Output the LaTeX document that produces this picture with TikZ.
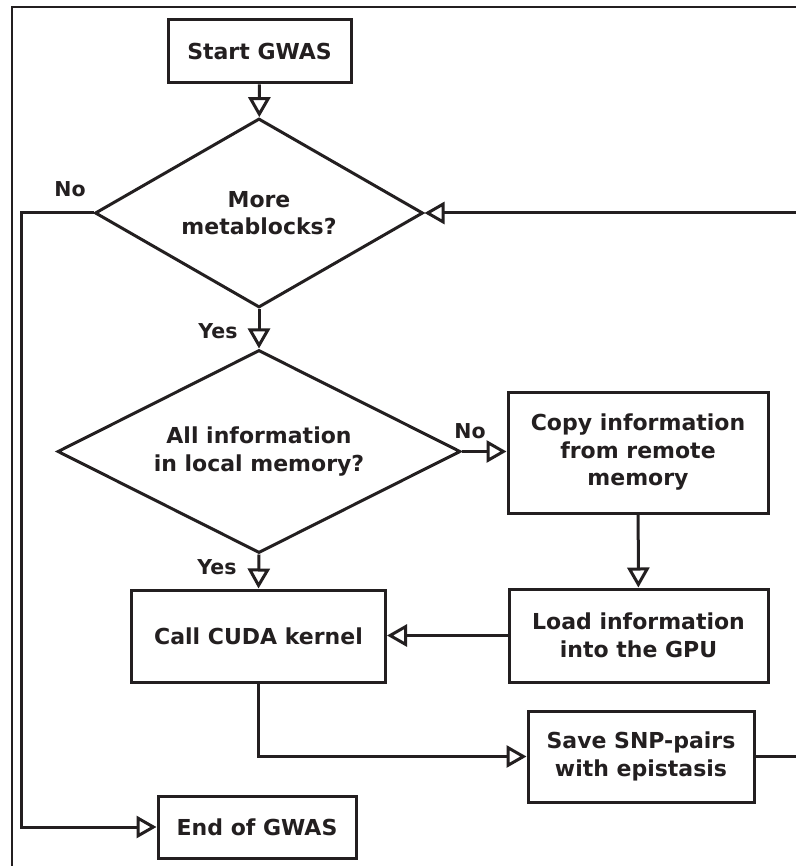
\documentclass[tikz,border=0pt]{standalone}
\usepackage{fontspec}
\setmainfont{DejaVu Sans}
\usetikzlibrary{shapes.geometric,arrows.meta}
\definecolor{ink}{HTML}{231F20}
\begin{document}
\begin{tikzpicture}[x=1pt,y=-1pt,
  every node/.style={text=ink},
  box/.style={draw=ink,line width=3pt,rectangle,inner sep=0pt,align=center,
    font=\bfseries\fontsize{22}{27.5}\selectfont},
  dec/.style={draw=ink,line width=3pt,diamond,inner sep=0pt,align=center,
    font=\bfseries\fontsize{22}{27.5}\selectfont},
  lbl/.style={font=\bfseries\fontsize{20.5}{24}\selectfont},
  flow/.style={draw=ink,line width=3pt,
    -{Triangle[open,length=20pt,width=22pt]}}]
\useasboundingbox (0,0) rectangle (795,866);
\fill[white] (0,0) rectangle (795,866);
\draw[ink,line width=2pt] (12,880) -- (12,7) -- (810,7);
% nodes
\node[box,minimum width=183pt,minimum height=63pt] (start) at (259.5,51.5) {Start GWAS};
\node[dec,shape aspect=1.74,minimum width=328pt,minimum height=189pt] (d1) at (259,213) {More\\metablocks?};
\node[dec,shape aspect=1.98,minimum width=403pt,minimum height=203pt] (d2) at (259,451.5) {All information\\in local memory?};
\node[box,minimum width=260pt,minimum height=121pt] (copy) at (638,452.5) {Copy information\\from remote\\memory};
\node[box,minimum width=259pt,minimum height=93pt] (load) at (638.5,635.5) {Load information\\into the GPU};
\node[box,minimum width=254pt,minimum height=92pt] (call) at (258.5,636) {Call CUDA kernel};
\node[box,minimum width=226pt,minimum height=91pt] (save) at (641,756.5) {Save SNP-pairs\\with epistasis};
\node[box,minimum width=198pt,minimum height=62pt] (endn) at (257,827) {End of GWAS};
% labels
\node[lbl] (no1) at (70,189) {No};
\node[lbl] (yes1) at (218,331) {Yes};
\node[lbl] (no2) at (470,431) {No};
\node[lbl] (yes2) at (217,567) {Yes};
% connectors
\draw[flow] (start) -- (d1);
\draw[flow] (d1) -- (d2);
\draw[flow] (d2.east) -- (d2.east -| copy.west);
\draw[flow] (copy) -- (load);
\draw[flow] (load.west) -- (load.west -| call.east);
\draw[flow] (d2.south) -- (call.north);
\draw[flow] (call.south) |- (save.west);
\draw[flow] (d1.west) -- ++(-72,0) |- (endn.west);
\draw[flow] (save.east) -- ++(170,0) |- (d1.east);
\end{tikzpicture}
\end{document}
